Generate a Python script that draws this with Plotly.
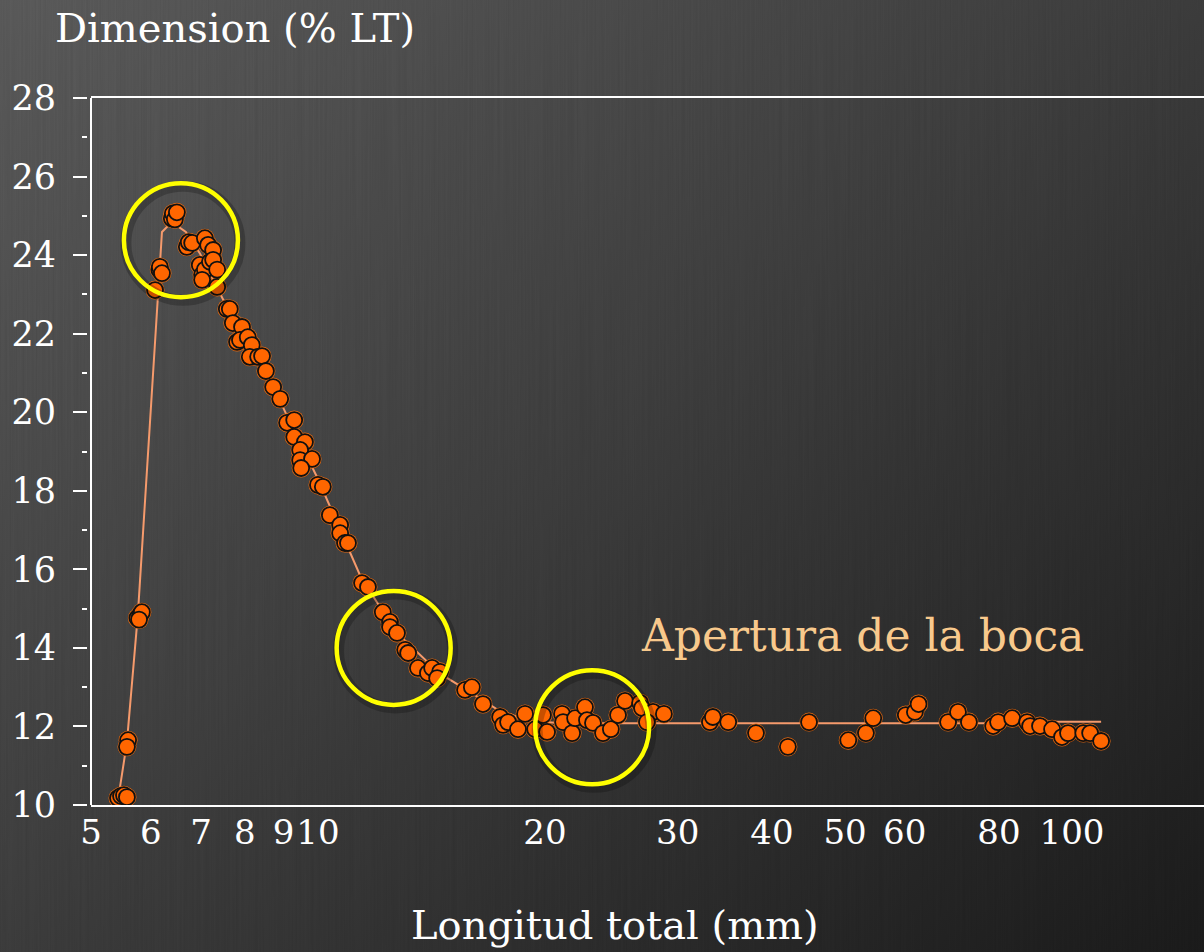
import base64
import math
import plotly.graph_objects as go

# ---------------- data ----------------
longitud = [5.43, 5.48, 5.53, 5.58, 5.60, 5.58, 5.76, 5.81, 5.84, 5.79,
            6.08, 6.16, 6.17, 6.21, 6.40, 6.42, 6.46, 6.50, 6.70, 6.74, 6.81,
            7.08, 7.15, 7.26, 6.97, 7.02, 7.08, 7.19, 7.26, 7.35, 7.35, 7.02,
            7.57, 7.64, 7.71, 7.93, 7.81, 7.88, 8.07, 8.17, 8.12, 8.33, 8.43,
            8.53, 8.72, 8.91, 9.10, 9.30, 9.30, 9.61, 9.47, 9.47, 9.82, 9.50,
            10.0, 10.15, 10.37, 10.70, 10.70, 10.86, 10.96, 11.44, 11.65,
            12.19, 12.46, 12.46, 12.73, 13.05, 13.17, 13.57, 13.99, 14.17,
            14.52, 14.39, 15.67, 16.00,
            16.55, 17.44, 17.60, 17.87, 18.42, 18.82, 19.41, 19.88, 20.13,
            21.07, 21.14, 21.73, 21.93, 22.60, 22.74, 23.16, 23.88, 24.46,
            25.0, 25.54, 26.74, 26.90, 27.82, 27.31, 28.76,
            33.1, 33.4, 35.0, 38.1, 42.0, 44.8, 50.5, 53.3, 54.5, 60.2, 61.9,
            62.6, 68.5, 70.6, 73.0, 78.6, 79.8, 83.3, 87.2, 88.0, 90.7, 94.1,
            97.0, 98.8, 103.5, 105.7, 109.3]
dimension = [10.18, 10.23, 10.25, 10.20, 11.65, 11.48, 14.76, 14.84, 14.91, 14.72,
             23.11, 23.63, 23.70, 23.54, 24.93, 25.06, 24.91, 25.09, 24.21, 24.33, 24.31,
             24.43, 24.26, 24.13, 23.75, 23.50, 23.63, 23.83, 23.88, 23.63, 23.19, 23.37,
             22.63, 22.63, 22.27, 22.17, 21.79, 21.84, 21.91, 21.71, 21.41, 21.41, 21.43,
             21.05, 20.64, 20.34, 19.73, 19.80, 19.37, 19.24, 19.04, 18.78, 18.81, 18.58,
             18.15, 18.10, 17.38, 17.13, 16.92, 16.67, 16.67, 15.65, 15.55,
             14.91, 14.66, 14.53, 14.38, 13.95, 13.87, 13.49, 13.36, 13.49,
             13.39, 13.23, 12.93, 13.00,
             12.57, 12.24, 12.04, 12.11, 11.93, 12.32, 11.93, 12.29, 11.86,
             12.32, 12.11, 11.83, 12.21, 12.49, 12.16, 12.09, 11.83, 11.93,
             12.29, 12.65, 12.60, 12.47, 12.37, 12.11, 12.32,
             12.11, 12.24, 12.11, 11.83, 11.48, 12.11, 11.65, 11.83, 12.21, 12.29, 12.37,
             12.57, 12.11, 12.37, 12.11, 12.01, 12.11, 12.21, 12.11, 12.01, 12.01, 11.93,
             11.73, 11.83, 11.83, 11.83, 11.63]

fit_x = [5.43, 5.58, 5.77, 6.21, 6.40, 6.68, 6.97, 7.49, 8.43, 9.10, 10.0,
         11.4, 12.7, 14.5, 16.0, 17.4, 19.0, 21.0, 77.0, 79.0, 109.3]
fit_y = [10.13, 11.60, 14.86, 24.59, 24.84, 24.59, 24.05, 22.86, 21.3, 19.9,
         18.3, 15.8, 14.4, 13.35, 12.85, 12.4, 12.15, 12.08, 12.08, 12.12, 12.12]

x_tickvals = [5, 6, 7, 8, 9, 10, 20, 30, 40, 50, 60, 80, 100]
x_ticktext = [str(v) for v in x_tickvals]
y_tickvals = list(range(10, 29, 2))

# highlighted regions (centre in data units)
circle_x = [6.58, 12.6, 23.1]
circle_y = [24.38, 14.0, 11.98]

# ---------------- layout geometry ----------------
W, H = 1204, 952
L, R, T, B = 87, 1204, 98, 805        # paper area in px
SPINE = 91                            # left spine / plot area start
PW, PH = R - L, B - T

def px_x(px):
    return (px - L) / PW

def px_y(py):
    return (B - py) / PH

x_lo = math.log10(5)
x_hi = x_lo + (R - SPINE) / 754.0
y_per_px = 18.0 / (805 - 98)

def data_to_px(xv, yv):
    return (SPINE + (math.log10(xv) - x_lo) * 754.0,
            805 - (yv - 10) / y_per_px)

# ---------------- background (svg gradient) ----------------
svg = f'''<svg xmlns="http://www.w3.org/2000/svg" width="{W}" height="{H}" viewBox="0 0 {W} {H}">
<defs>
<linearGradient id="g" x1="0" y1="0" x2="1" y2="1">
<stop offset="0" stop-color="#5e5e5e"/>
<stop offset="0.45" stop-color="#424242"/>
<stop offset="1" stop-color="#1c1c1c"/>
</linearGradient>
<filter id="n" x="0" y="0" width="100%" height="100%">
<feTurbulence type="fractalNoise" baseFrequency="0.6 0.004" numOctaves="2" seed="3"/>
<feColorMatrix type="matrix" values="0 0 0 0 0  0 0 0 0 0  0 0 0 0 0  0 0 0 0.10 0"/>
</filter>
</defs>
<rect width="{W}" height="{H}" fill="url(#g)"/>
<rect width="{W}" height="{H}" filter="url(#n)"/>
</svg>'''
bg_src = "data:image/svg+xml;base64," + base64.b64encode(svg.encode()).decode()

fig = go.Figure()

fig.add_trace(go.Scatter(
    x=fit_x, y=fit_y, mode="lines",
    line=dict(color="#F59A6C", width=2),
    hoverinfo="skip", showlegend=False))

fig.add_trace(go.Scatter(
    x=longitud, y=dimension, mode="markers",
    marker=dict(size=19, color="#E86A10", line=dict(width=0)),
    hoverinfo="skip", showlegend=False))
fig.add_trace(go.Scatter(
    x=longitud, y=dimension, mode="markers",
    marker=dict(size=16, color="#FF6600", line=dict(width=1.8, color="#111111")),
    showlegend=False))

shapes = []
shapes.append(dict(type="line", xref="paper", yref="paper",
                   x0=px_x(SPINE), x1=px_x(SPINE), y0=0, y1=1,
                   line=dict(color="white", width=2)))
for cx, cy in zip(circle_x, circle_y):
    pxc, pyc = data_to_px(cx, cy)
    r = 57
    shapes.append(dict(type="circle", xref="paper", yref="paper",
                       x0=px_x(pxc - r + 2), x1=px_x(pxc + r + 2),
                       y0=px_y(pyc + r + 3), y1=px_y(pyc - r + 3),
                       line=dict(color="rgba(0,0,0,0.22)", width=11)))
    shapes.append(dict(type="circle", xref="paper", yref="paper",
                       x0=px_x(pxc - r), x1=px_x(pxc + r),
                       y0=px_y(pyc + r), y1=px_y(pyc - r),
                       line=dict(color="#FFFF00", width=4.5)))

serif = "DejaVu Serif"
annotations = [
    dict(text="Dimension (% LT)", xref="paper", yref="paper",
         x=px_x(53), y=px_y(28), xanchor="left", yanchor="middle",
         showarrow=False, font=dict(family=serif, size=40, color="white")),
    dict(text="Longitud total (mm)", xref="paper", yref="paper",
         x=px_x(615), y=px_y(925), xanchor="center", yanchor="middle",
         showarrow=False, font=dict(family=serif, size=40, color="white")),
    dict(text="Apertura de la boca", xref="paper", yref="paper",
         x=px_x(862), y=px_y(635), xanchor="center", yanchor="middle",
         showarrow=False, font=dict(family=serif, size=44, color="#F8C98C")),
]

fig.update_layout(
    width=W, height=H,
    margin=dict(l=L, r=W - R, t=T, b=H - B, pad=0),
    paper_bgcolor="#3a3a3a",
    plot_bgcolor="rgba(0,0,0,0)",
    images=[dict(source=bg_src, xref="paper", yref="paper",
                 x=-L / PW, y=1 + T / PH, sizex=W / PW, sizey=H / PH,
                 xanchor="left", yanchor="top", sizing="stretch",
                 layer="below")],
    shapes=shapes,
    annotations=annotations,
    xaxis=dict(type="log", range=[x_lo, x_hi], domain=[px_x(SPINE), 1],
               tickvals=x_tickvals, ticktext=x_ticktext,
               ticks="outside", ticklen=0, tickcolor="rgba(0,0,0,0)",
               showgrid=False, zeroline=False, showline=True, mirror=True,
               linecolor="white", linewidth=2, automargin=False,
               ticklabelstandoff=-4,
               tickfont=dict(family=serif, size=34, color="white")),
    yaxis=dict(range=[10, 28], tickvals=y_tickvals, anchor="free", position=0,
               ticks="outside", ticklen=14, tickwidth=1.5, tickcolor="white",
               minor=dict(tick0=11, dtick=2, ticks="outside", ticklen=5,
                          tickwidth=1.5, tickcolor="white"),
               showgrid=False, zeroline=False, showline=False,
               automargin=False, ticklabelstandoff=10,
               tickfont=dict(family=serif, size=35, color="white")),
)

fig.write_html("out.html")
